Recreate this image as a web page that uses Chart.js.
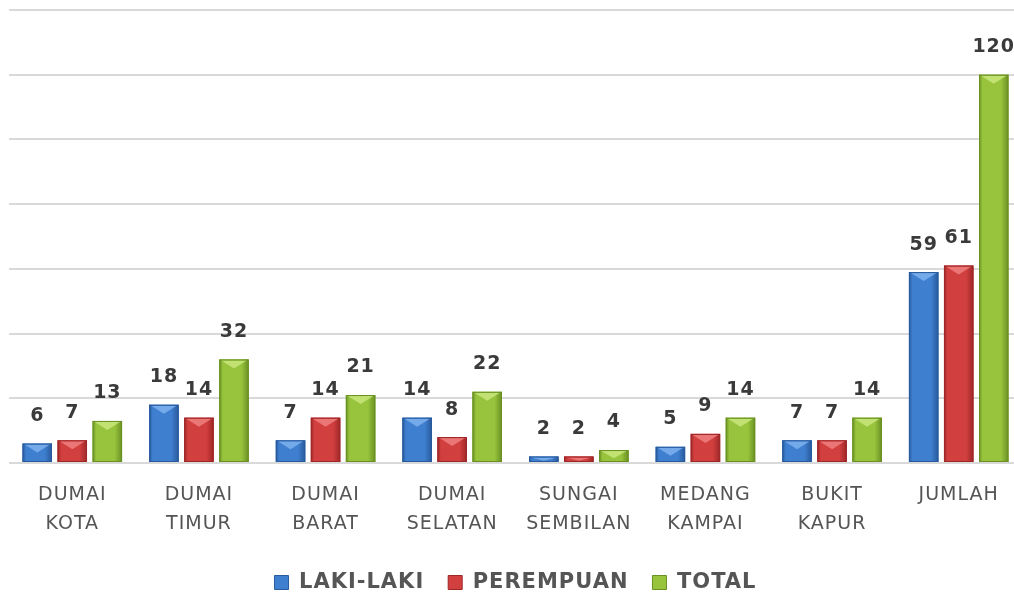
<!DOCTYPE html>
<html>
<head>
<meta charset="utf-8">
<script src="https://cdn.jsdelivr.net/npm/chart.js@4.4.1/dist/chart.umd.min.js"></script>
<style>
  html, body { margin: 0; padding: 0; background: #fff; overflow: hidden; }
  #wrap { width: 1022px; height: 603px; position: relative; }
</style>
</head>
<body>
<div id="wrap"><canvas id="kecChart"></canvas></div>
<script>
// data per kecamatan
const kecamatan = [
    ['DUMAI', 'KOTA'], ['DUMAI', 'TIMUR'], ['DUMAI', 'BARAT'], ['DUMAI', 'SELATAN'],
    ['SUNGAI', 'SEMBILAN'], ['MEDANG', 'KAMPAI'], ['BUKIT', 'KAPUR'], ['JUMLAH']
];
const lakiLaki = [6, 18, 7, 14, 2, 5, 7, 59];
const perempuan = [7, 14, 14, 8, 2, 9, 7, 61];
const total = [13, 32, 21, 22, 4, 14, 14, 120];
const yTicks = [0, 20, 40, 60, 80, 100, 120, 140];

// warna: [tengah, tepi gelap, sorotan]
const warna = [
    ['#3f7fcf', '#285a9c', '#7fb2ee'],
    ['#d23f3f', '#9e2727', '#f08080'],
    ['#97c43c', '#6a9024', '#c8e67c']
];

// huruf agak renggang
const spasiPlugin = {
    id: 'spasi',
    beforeUpdate(chart) { chart.ctx.letterSpacing = '1px'; },
    beforeDraw(chart) { chart.ctx.letterSpacing = '1px'; }
};

// efek 3D sederhana di atas setiap batang
const bevelPlugin = {
    id: 'bevel',
    afterDatasetsDraw(chart) {
        const ctx = chart.ctx;
        chart.data.datasets.forEach((ds, i) => {
            const meta = chart.getDatasetMeta(i);
            const c = warna[i];
            meta.data.forEach(bar => {
                const left = bar.x - bar.width / 2;
                const right = bar.x + bar.width / 2;
                const top = bar.y;
                const bottom = bar.base;
                const h = bottom - top;
                ctx.save();
                const g = ctx.createLinearGradient(left, 0, right, 0);
                g.addColorStop(0, c[1]);
                g.addColorStop(0.12, c[0]);
                g.addColorStop(0.75, c[0]);
                g.addColorStop(1, c[1]);
                ctx.fillStyle = g;
                ctx.fillRect(left, top, right - left, h);
                // sorotan segitiga di atas
                const tri = Math.min(8, h * 0.6);
                ctx.fillStyle = c[2];
                ctx.globalAlpha = 0.85;
                ctx.beginPath();
                ctx.moveTo(left + 2, top + 1);
                ctx.lineTo(right - 2, top + 1);
                ctx.lineTo(bar.x, top + 1 + tri);
                ctx.closePath();
                ctx.fill();
                ctx.globalAlpha = 1;
                ctx.strokeStyle = c[1];
                ctx.lineWidth = 1;
                ctx.strokeRect(left + 0.5, top + 0.5, right - left - 1, h - 1);
                ctx.restore();
            });
        });
    }
};

// label nilai di atas batang
const labelPlugin = {
    id: 'nilai',
    afterDatasetsDraw(chart) {
        const ctx = chart.ctx;
        ctx.save();
        ctx.font = 'bold 19px "DejaVu Sans"';
        ctx.fillStyle = '#3a3a3a';
        ctx.textAlign = 'center';
        ctx.textBaseline = 'bottom';
        chart.data.datasets.forEach((ds, i) => {
            chart.getDatasetMeta(i).data.forEach((bar, j) => {
                ctx.fillText(ds.data[j], bar.x, bar.y - 18);
            });
        });
        ctx.restore();
    }
};

function legendSquares(chart) {
    return chart.data.datasets.map((ds, i) => ({
        text: ds.label,
        fillStyle: warna[i][0],
        strokeStyle: warna[i][1],
        fontColor: '#555',
        lineWidth: 1,
        datasetIndex: i
    }));
}

new Chart(document.getElementById('kecChart'), {
    type: 'bar',
    data: {
        labels: kecamatan,
        datasets: [
            { label: 'LAKI-LAKI', data: lakiLaki, backgroundColor: warna[0][0] },
            { label: 'PEREMPUAN', data: perempuan, backgroundColor: warna[1][0] },
            { label: 'TOTAL', data: total, backgroundColor: warna[2][0] }
        ]
    },
    options: {
        responsive: true,
        maintainAspectRatio: false,
        animation: false,
        layout: { padding: { left: 9, right: 0, top: 10, bottom: 0 } },
        datasets: {
            bar: { categoryPercentage: 0.83, barPercentage: 0.84 }
        },
        plugins: {
            tooltip: { enabled: false },
            legend: {
                position: 'bottom',
                labels: {
                    generateLabels: legendSquares,
                    boxWidth: 14,
                    boxHeight: 14,
                    padding: 24,
                    color: '#555',
                    font: { family: 'DejaVu Sans', size: 21, weight: 'bold' }
                }
            }
        },
        scales: {
            x: {
                grid: { display: false },
                border: { display: false },
                ticks: {
                    color: '#555',
                    padding: 10,
                    maxRotation: 0,
                    autoSkip: false,
                    font: { family: 'DejaVu Sans', size: 19, lineHeight: 1.5 }
                }
            },
            y: {
                min: 0,
                max: 140,
                afterBuildTicks(axis) {
                    axis.ticks = yTicks.map(v => ({ value: v }));
                },
                ticks: { display: false },
                border: { display: false },
                grid: { color: '#d9d9d9', lineWidth: 2, drawTicks: false }
            }
        }
    },
    plugins: [spasiPlugin, bevelPlugin, labelPlugin]
});
</script>
</body>
</html>
